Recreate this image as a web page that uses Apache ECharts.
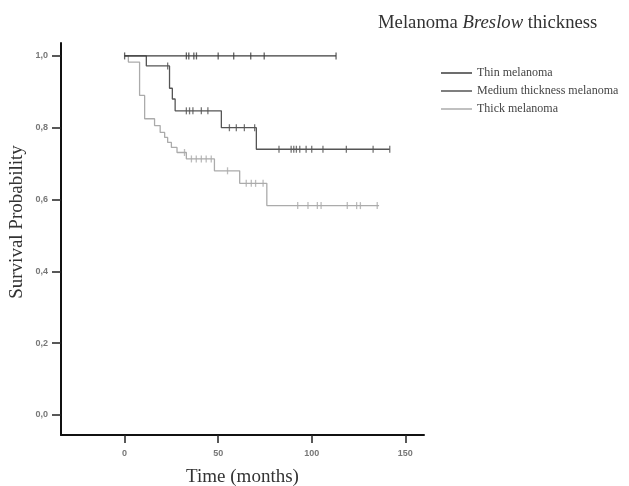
<!DOCTYPE html>
<html>
<head>
<meta charset="utf-8">
<script src="https://cdn.jsdelivr.net/npm/echarts@6/dist/echarts.min.js"></script>
<style>
  html, body { margin: 0; padding: 0; background: #fff; }
  #chart { width: 629px; height: 486px; }
</style>
</head>
<body>
<div id="chart"></div>
<script>
// Kaplan-Meier steps: event times (months) and survival after each step
const THIN_TIMES = [0, 113];
const THIN_SURV = [1.0, 1.0];
const THIN_CENSORED = [0, 33, 34.3, 37, 38.4, 50, 58.3, 67.4, 74.6, 113];

const MEDIUM_TIMES = [0, 11.6, 24, 25.5, 27, 51.7, 70.4, 141.7];
const MEDIUM_SURV = [1.0, 0.972, 0.91, 0.88, 0.847, 0.8, 0.74, 0.74];
const MEDIUM_CENSORED = [23, 33, 34.7, 36.5, 41, 44.5, 56, 59.7, 64, 69.5,
  82.5, 89, 90.4, 91.8, 93.6, 97, 100, 106, 118.5, 132.8, 141.7];

const THICK_TIMES = [0, 2, 8, 10.7, 16, 19, 21.4, 23, 25, 28, 33, 48, 61.5, 76, 136];
const THICK_SURV = [1.0, 0.983, 0.89, 0.825, 0.806, 0.787, 0.773, 0.759, 0.745, 0.731, 0.713, 0.68, 0.645, 0.583, 0.583];
const THICK_CENSORED = [32, 35.7, 38.3, 41, 43.6, 46.3, 55, 65, 67.7, 70, 74,
  92.5, 98, 103, 105, 119, 124, 126, 135];

const GROUP_NAMES = ["Thin melanoma", "Medium thickness melanoma", "Thick melanoma"];
const X_TICKS = [0, 50, 100, 150];
const Y_TICKS = [0, 0.2, 0.4, 0.6, 0.8, 1.0];

const COLORS = ["#3c3c3c", "#555555", "#ababab"];

function survivalAt(times, surv, t) {
  let s = surv[0];
  for (let i = 0; i < times.length; i++) {
    if (times[i] <= t) s = surv[i];
  }
  return s;
}

function curve(times, surv) {
  return times.map((t, i) => [t, surv[i]]);
}

function marks(times, surv, censored) {
  return censored.map(t => [t, survivalAt(times, surv, t)]);
}

const groups = [
  [THIN_TIMES, THIN_SURV, THIN_CENSORED],
  [MEDIUM_TIMES, MEDIUM_SURV, MEDIUM_CENSORED],
  [THICK_TIMES, THICK_SURV, THICK_CENSORED]
];

const series = [];
groups.forEach(([times, surv, censored], i) => {
  series.push({
    name: GROUP_NAMES[i],
    type: "line",
    step: "end",
    showSymbol: false,
    symbol: "none",
    lineStyle: { color: COLORS[i], width: 1.3 },
    itemStyle: { color: COLORS[i] },
    data: curve(times, surv),
    z: 3 - i
  });
  series.push({
    name: GROUP_NAMES[i] + " censored",
    type: "scatter",
    symbol: "rect",
    symbolSize: [1.3, 7],
    itemStyle: { color: COLORS[i] },
    data: marks(times, surv, censored),
    z: 3 - i
  });
});

const serif = "'Liberation Serif', 'DejaVu Serif', serif";
const tickFont = { fontFamily: "'Liberation Sans', Arial, sans-serif", fontSize: 9, fontWeight: "bold", color: "#777" };

const chart = echarts.init(document.getElementById("chart"));
chart.setOption({
  animation: false,
  backgroundColor: "#fff",
  title: {
    left: 373,
    top: 9,
    text: "{a|Melanoma }{b|Breslow}{a| thickness}",
    textStyle: {
      fontWeight: "normal",
      rich: {
        a: { fontFamily: serif, fontSize: 18.7, fontWeight: "normal", color: "#333" },
        b: { fontFamily: serif, fontSize: 18.7, fontWeight: "normal", fontStyle: "italic", color: "#333" }
      }
    }
  },
  legend: {
    orient: "vertical",
    left: 436,
    top: 61,
    itemWidth: 31,
    itemHeight: 1.5,
    itemGap: 4,
    icon: "rect",
    data: GROUP_NAMES,
    textStyle: { fontFamily: serif, fontSize: 12, color: "#444", lineHeight: 14 }
  },
  grid: { left: 61, right: 205, top: 43, bottom: 51, outerBoundsMode: "none" },
  xAxis: {
    type: "value",
    min: -34,
    max: 160,
    name: "Time (months)",
    nameLocation: "middle",
    nameGap: 33,
    nameTextStyle: { fontFamily: serif, fontSize: 19, color: "#333" },
    axisLine: { onZero: false, lineStyle: { color: "#111", width: 2 } },
    axisTick: { show: true, length: 8, customValues: X_TICKS, lineStyle: { color: "#222", width: 1.5 } },
    axisLabel: { customValues: X_TICKS, margin: 14, ...tickFont },
    splitLine: { show: false }
  },
  yAxis: {
    type: "value",
    min: -0.056,
    max: 1.036,
    axisLine: { onZero: false, lineStyle: { color: "#111", width: 2 } },
    axisTick: { show: true, length: 9, customValues: Y_TICKS, lineStyle: { color: "#222", width: 1.5 } },
    axisLabel: {
      customValues: Y_TICKS,
      margin: 13,
      ...tickFont,
      formatter: v => v.toFixed(1).replace(".", ",")
    },
    splitLine: { show: false }
  },
  graphic: [{
    type: "text",
    x: 8,
    y: 222,
    rotation: Math.PI / 2,
    style: {
      text: "Survival Probability",
      font: "19px " + serif,
      fill: "#333",
      textAlign: "center",
      textVerticalAlign: "top"
    }
  }],
  series
});
</script>
</body>
</html>
